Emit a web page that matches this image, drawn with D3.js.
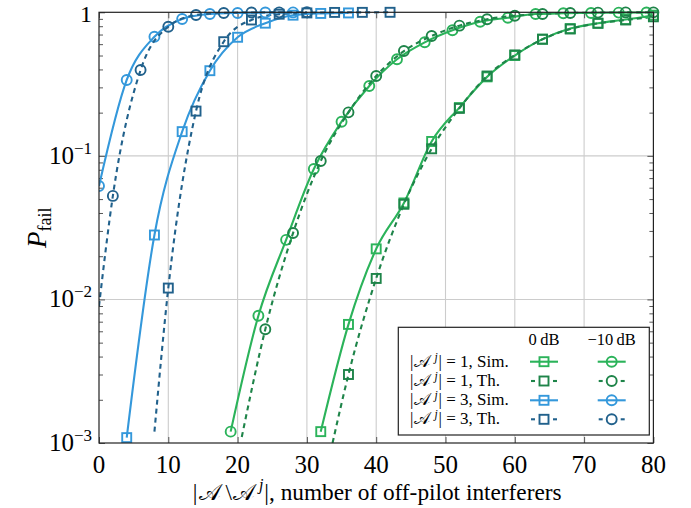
<!DOCTYPE html>
<html><head><meta charset="utf-8">
<script src="https://cdn.jsdelivr.net/npm/d3@7"></script>
<style>
body{margin:0;background:#fff;}
text{font-family:"Liberation Serif","DejaVu Serif",serif;fill:#000;}
</style></head>
<body><svg id="c" width="691" height="508"></svg>
<script>
// ---- data ----
const xTicks = [0,10,20,30,40,50,60,70,80];
const yTickExp = [0,-1,-2,-3];

// |A^j| = 3
const sim3_m10_x = [0,4,8,12,16,20,24,28];
const sim3_m10_y = [0.0617,0.338,0.676,0.898,0.973,0.99,0.996,0.998];
const th3_m10_x  = [0,2,6,10,14,18,22,26,30];
const th3_m10_y  = [0.009,0.0526,0.396,0.794,0.957,0.99,0.997,0.999,1.0];
const sim3_0_x   = [4,8,12,16,20,24,28,32,36];
const sim3_0_y   = [0.00109,0.0281,0.1475,0.392,0.67,0.84,0.955,0.982,0.99];
const th3_0_x    = [8,10,14,18,22,26,30,34,38,42];
const th3_0_y    = [0.0012,0.012,0.205,0.624,0.884,0.97,0.99,0.998,0.999,1.0];
// |A^j| = 1
const sim1_m10_x = [19,23,27,31,35,39,43,47,51,55,59,63,67,71,75,79];
const sim1_m10_y = [0.0012,0.0077,0.026,0.081,0.173,0.307,0.471,0.618,0.75,0.86,0.917,0.973,0.985,0.99,0.995,0.997];
const th1_m10_x  = [20.6,24,28,32,36,40,44,48,52,56,60,64,68,72,76,80];
const th1_m10_y  = [0.0011,0.0062,0.029,0.092,0.201,0.36,0.537,0.684,0.807,0.894,0.947,0.973,0.99,0.995,0.998,0.999];
const sim1_0_x   = [32,36,40,44,48,52,56,60,64,68,72,76,80];
const sim1_0_y   = [0.0012,0.0067,0.0225,0.047,0.126,0.217,0.355,0.5,0.65,0.77,0.84,0.89,0.955];
const th1_0_x    = [33.7,36,40,44,48,52,56,60,64,68,72,76,80];
const th1_0_y    = [0.001,0.003,0.014,0.046,0.112,0.214,0.36,0.505,0.649,0.765,0.838,0.884,0.93];

const legendRows = ["= 1, Sim.","= 1, Th.","= 3, Sim.","= 3, Th."];
const legendCols = ["0\u2009dB","\u221210\u2009dB"];

const C = {lg:"#2bb35a", dg:"#1e8449", lb:"#3498db", db:"#21618c"};

// series: [xs, ys, color, dashed, marker, markFrom]
const series = [
  [sim1_0_x, sim1_0_y, C.lg, false, "square", 0],
  [th1_0_x,  th1_0_y,  C.dg, true,  "square", 1],
  [sim1_m10_x, sim1_m10_y, C.lg, false, "circle", 0],
  [th1_m10_x,  th1_m10_y,  C.dg, true,  "circle", 1],
  [sim3_0_x, sim3_0_y, C.lb, false, "square", 0],
  [th3_0_x,  th3_0_y,  C.db, true,  "square", 1],
  [sim3_m10_x, sim3_m10_y, C.lb, false, "circle", 0],
  [th3_m10_x,  th3_m10_y,  C.db, true,  "circle", 1],
];

// ---- layout ----
const L = 99, R = 653.4, T = 12.3, B = 443;
const svg = d3.select("#c");
const x = d3.scaleLinear().domain([0,80]).range([L,R]);
const y = d3.scaleLog().domain([1e-3,1]).range([B,T]);

// grid
const g = svg.append("g");
g.selectAll(".gx").data(xTicks.slice(1,-1)).enter().append("line")
  .attr("x1",d=>x(d)).attr("x2",d=>x(d)).attr("y1",T).attr("y2",B)
  .attr("stroke","#cccccc").attr("stroke-width",1.1);
g.selectAll(".gy").data(yTickExp.slice(1,-1)).enter().append("line")
  .attr("x1",L).attr("x2",R).attr("y1",d=>y(Math.pow(10,d))).attr("y2",d=>y(Math.pow(10,d)))
  .attr("stroke","#cccccc").attr("stroke-width",1.1);

// ticks (inward) via axes
const minor = [];
for (let e=-3;e<0;e++) for (let m=2;m<=9;m++) minor.push(m*Math.pow(10,e));
function yAx(gen, tx, len, vals){
  svg.append("g").attr("transform",`translate(${tx},0)`)
    .call(gen(y).tickValues(vals).tickSize(len).tickFormat(""))
    .call(s=>s.select(".domain").remove())
    .call(s=>s.selectAll("line").attr("stroke","#444").attr("stroke-width",0.9));
}
yAx(d3.axisRight, L, 4, minor);
yAx(d3.axisLeft, R, 4, minor);
yAx(d3.axisRight, L, 6, yTickExp.map(e=>Math.pow(10,e)));
yAx(d3.axisLeft, R, 6, yTickExp.map(e=>Math.pow(10,e)));
function xAx(gen, ty){
  svg.append("g").attr("transform",`translate(0,${ty})`)
    .call(gen(x).tickValues(xTicks).tickSize(6).tickFormat(""))
    .call(s=>s.select(".domain").remove())
    .call(s=>s.selectAll("line").attr("stroke","#444").attr("stroke-width",0.9));
}
xAx(d3.axisTop, B);
xAx(d3.axisBottom, T);

// clip
svg.append("clipPath").attr("id","clip").append("rect")
  .attr("x",L).attr("y",T-8).attr("width",R-L+8).attr("height",B-T+8);

const line = d3.line().x(d=>x(d[0])).y(d=>y(d[1])).curve(d3.curveMonotoneX);
const plot = svg.append("g").attr("clip-path","url(#clip)");

function drawMarker(sel, type, cx, cy, color){
  if (type==="square"){
    sel.append("rect").attr("x",cx-4.5).attr("y",cy-4.5).attr("width",9).attr("height",9)
      .attr("fill","none").attr("stroke",color).attr("stroke-width",1.9);
  } else {
    sel.append("circle").attr("cx",cx).attr("cy",cy).attr("r",5)
      .attr("fill","none").attr("stroke",color).attr("stroke-width",1.9);
  }
}

series.forEach(([xs,ys,col,dashed,mk,from])=>{
  const pts = xs.map((v,i)=>[v,ys[i]]);
  plot.append("path").attr("d",line(pts)).attr("fill","none")
    .attr("stroke",col).attr("stroke-width",2.1)
    .attr("stroke-dasharray",dashed?"5,4":null);
  pts.slice(from).forEach(p=>drawMarker(plot, mk, x(p[0]), y(p[1]), col));
});

// frame
svg.append("rect").attr("x",L).attr("y",T).attr("width",R-L).attr("height",B-T)
  .attr("fill","none").attr("stroke","#222").attr("stroke-width",1.2);

// tick labels
svg.selectAll(".xl").data(xTicks).enter().append("text")
  .attr("x",d=>x(d)).attr("y",B+30).attr("text-anchor","middle")
  .attr("font-size",25).text(d=>d);
yTickExp.forEach(e=>{
  const t = svg.append("text").attr("x",L-7).attr("y",e===0 ? 22 : y(Math.pow(10,e))+8)
    .attr("text-anchor","end").attr("font-size",e===0?24:25);
  if (e===0) t.text("1");
  else { t.append("tspan").text("10");
    t.append("tspan").attr("dy",-10).attr("font-size",17).text("\u2212"+(-e)); }
});

// axis titles
const SA = "\uD835\uDC9C";
const xt = svg.append("text").attr("x",(L+R)/2+1).attr("y",500).attr("text-anchor","middle").attr("font-size",23.3);
xt.append("tspan").text("|");
xt.append("tspan").attr("dx",2).text(SA);
xt.append("tspan").attr("dx",4).text("\\");
xt.append("tspan").attr("dx",1).text(SA);
xt.append("tspan").attr("dy",-10).attr("dx",4).attr("font-size",16).attr("font-style","italic").text("j");
xt.append("tspan").attr("dy",10).attr("dx",1).text("|, number of off-pilot interferers");

const yt = svg.append("text").attr("transform",`translate(46,${(T+B)/2}) rotate(-90)`)
  .attr("text-anchor","middle").attr("font-size",27);
yt.append("tspan").attr("font-style","italic").text("P");
yt.append("tspan").attr("dy",5).attr("font-size",18).text("fail");

// legend
const lg = svg.append("g");
const LX=398.3, LY=327.3, LW=251, LH=107.7;
lg.append("rect").attr("x",LX).attr("y",LY).attr("width",LW).attr("height",LH)
  .attr("fill","#fff").attr("stroke","#222").attr("stroke-width",1.2);
const colX = [544, 611.7];
const rowY = [361.7, 381, 400.3, 419.3];
legendCols.forEach((c,i)=>lg.append("text").attr("x",colX[i]).attr("y",345).attr("text-anchor","middle")
  .attr("font-size",16.5).text(c));
const legSeries = [[C.lg,false],[C.dg,true],[C.lb,false],[C.db,true]];
legendRows.forEach((r,i)=>{
  const t = lg.append("text").attr("x",410).attr("y",rowY[i]+5).attr("font-size",17);
  t.append("tspan").text("|");
  t.append("tspan").attr("dx",1).text(SA);
  t.append("tspan").attr("dy",-6).attr("dx",4).attr("font-size",11.5).attr("font-style","italic").text("j");
  t.append("tspan").attr("dy",6).attr("dx",1).text("| "+r);
  const [col,dash] = legSeries[i];
  ["square","circle"].forEach((mk,j)=>{
    const cx = colX[j];
    if (dash){
      lg.append("line").attr("x1",cx-13).attr("x2",cx-9).attr("y1",rowY[i]).attr("y2",rowY[i]).attr("stroke",col).attr("stroke-width",2.1);
      lg.append("line").attr("x1",cx+9).attr("x2",cx+13).attr("y1",rowY[i]).attr("y2",rowY[i]).attr("stroke",col).attr("stroke-width",2.1);
    } else {
      lg.append("line").attr("x1",cx-14).attr("x2",cx+14).attr("y1",rowY[i]).attr("y2",rowY[i]).attr("stroke",col).attr("stroke-width",2.1);
    }
    drawMarker(lg, mk, cx, rowY[i], col);
  });
});
</script></body></html>
